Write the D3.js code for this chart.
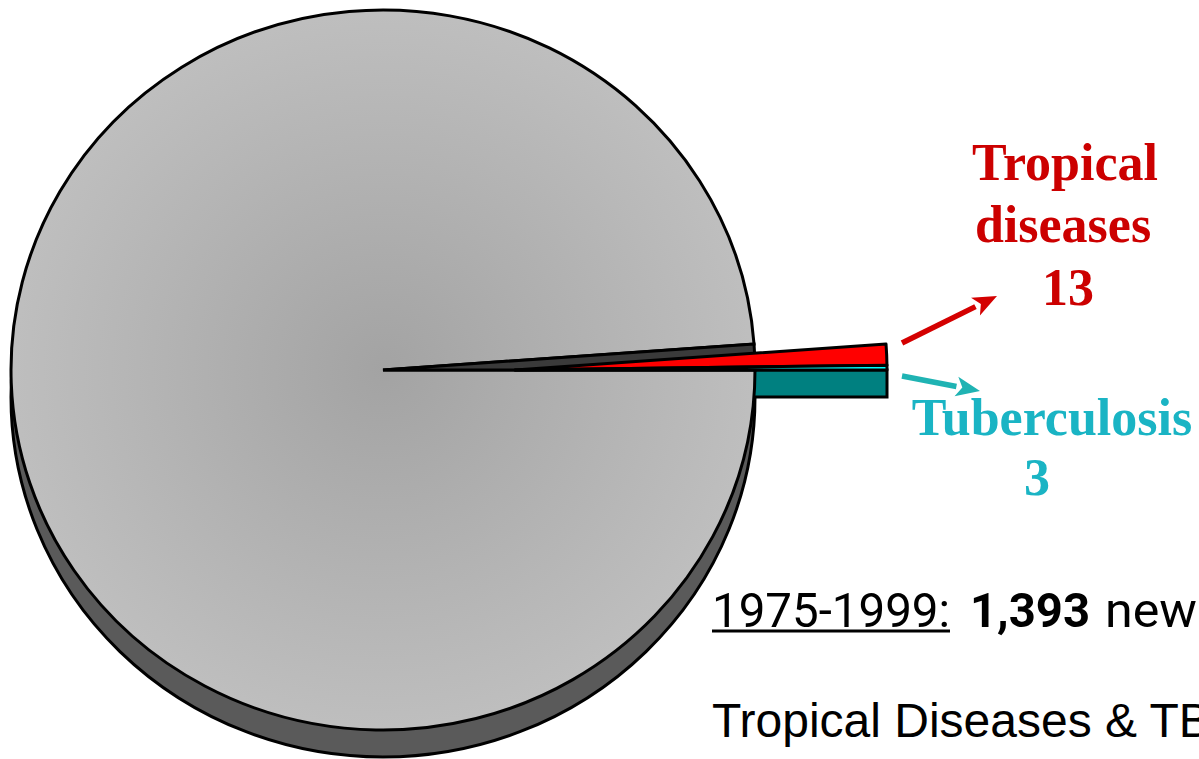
<!DOCTYPE html>
<html><head><meta charset="utf-8">
<script src="https://cdn.jsdelivr.net/npm/d3@7/dist/d3.min.js"></script>
<style>html,body{margin:0;padding:0;background:#fff;overflow:hidden}</style>
</head><body>
<svg id="chart" width="1199" height="759"></svg>
<script>
// ---- data ----
const categories = ["Tropical diseases", "Tuberculosis", "Other new drugs"];
const values = [13, 3, 1377];
const totalLabel = "1,393";
const periodLabel = "1975-1999:";
const newLabel = "new";
const footLabel = "Tropical Diseases & TB";
const labelLines = [["Tropical", "diseases", "13"], ["Tuberculosis", "3"]];

// ---- layout ----
const svg = d3.select("#chart");
const cx = 383, cy = 370, rx = 372, ry = 360, depth = 27, explode = 132;
const sy = ry / rx;
const total = d3.sum(values);
const start = Math.PI / 2 - (values[0] + values[1]) / total * 2 * Math.PI;
const pie = d3.pie().sort(null).startAngle(start).endAngle(start + 2 * Math.PI);
const arcs = pie(values);
const arc = d3.arc().innerRadius(0).outerRadius(rx);
const SW = 3;

const defs = svg.append("defs");
const grad = defs.append("radialGradient").attr("id", "g").attr("cx", "50%").attr("cy", "50%").attr("r", "55%");
grad.append("stop").attr("offset", "0%").attr("stop-color", "#a3a3a3");
grad.append("stop").attr("offset", "100%").attr("stop-color", "#c1c1c1");

// pie side (3D depth)
svg.append("ellipse").attr("cx", cx).attr("cy", cy + depth).attr("rx", rx).attr("ry", ry)
  .attr("fill", "#5a5a5a").attr("stroke", "#000").attr("stroke-width", SW);

// side wall of exploded slices (teal)
const tb = arcs[1];
const ax = cx + explode, ay = cy;
const ox = ax + rx * Math.sin(tb.endAngle), oy = cy - ry * Math.cos(tb.endAngle);
svg.append("path")
  .attr("d", `M${ax},${ay}L${ox},${oy}L${ox},${oy + depth}L${ax},${ay + depth}Z`)
  .attr("fill", "#008080").attr("stroke", "#000").attr("stroke-width", SW);

// main pie top face
const gMain = svg.append("g").attr("transform", `translate(${cx},${cy}) scale(1,${sy})`);
gMain.append("path").attr("d", arc(arcs[2])).attr("fill", "url(#g)")
  .attr("stroke", "#000").attr("stroke-width", SW).attr("vector-effect", "non-scaling-stroke");
// notch left by the exploded slices
gMain.append("path").attr("d", arc({startAngle: arcs[0].startAngle, endAngle: arcs[1].endAngle}))
  .attr("fill", "#3a3a3a").attr("stroke", "#000").attr("stroke-width", SW).attr("vector-effect", "non-scaling-stroke");

// exploded slices
const gEx = svg.append("g").attr("transform", `translate(${cx + explode},${cy}) scale(1,${sy})`);
const colors = ["#ff0000", "#00ffff"];
[arcs[0], arcs[1]].forEach((a, i) => {
  gEx.append("path").attr("d", arc(a)).attr("fill", colors[i])
    .attr("stroke", "#000").attr("stroke-width", SW).attr("stroke-linejoin", "round")
    .attr("vector-effect", "non-scaling-stroke");
});

// arrows
function arrow(x1, y1, x2, y2, color) {
  const ang = Math.atan2(y2 - y1, x2 - x1), hl = 24, hw = 10;
  const bx = x2 - hl * Math.cos(ang), by = y2 - hl * Math.sin(ang);
  svg.append("line").attr("x1", x1).attr("y1", y1).attr("x2", bx).attr("y2", by)
    .attr("stroke", color).attr("stroke-width", 5.5);
  const px = -Math.sin(ang) * hw, py = Math.cos(ang) * hw;
  svg.append("path").attr("d", `M${x2},${y2}L${bx + px},${by + py}L${bx + 6 * Math.cos(ang)},${by + 6 * Math.sin(ang)}L${bx - px},${by - py}Z`)
    .attr("fill", color);
}
arrow(902, 343, 997, 296, "#d40000");
arrow(902, 376, 980, 391, "#1fb3b3");

// labels
const serif = "'Liberation Serif','DejaVu Serif',serif";
const tl = svg.append("text").attr("font-family", serif).attr("font-weight", "bold").attr("font-size", 52)
  .attr("fill", "#cc0000").attr("text-anchor", "middle");
[[1065, 180], [1063, 242], [1068, 305]].forEach((p, i) =>
  tl.append("tspan").attr("x", p[0]).attr("y", p[1]).text(labelLines[0][i]));
const tb2 = svg.append("text").attr("font-family", serif).attr("font-weight", "bold").attr("font-size", 52)
  .attr("fill", "#1ab4c4").attr("text-anchor", "middle");
[[1052, 435], [1037, 495]].forEach((p, i) =>
  tb2.append("tspan").attr("x", p[0]).attr("y", p[1]).text(labelLines[1][i]));

// bottom text
const sans1 = "Roboto,'DejaVu Sans',sans-serif";
const line1 = svg.append("text").attr("y", 627).attr("font-family", sans1).attr("font-size", 49).attr("fill", "#000");
line1.append("tspan").attr("x", 712).attr("textLength", 238).attr("lengthAdjust", "spacingAndGlyphs").text(periodLabel);
line1.append("tspan").attr("x", 970).attr("font-weight", "bold").attr("textLength", 120).attr("lengthAdjust", "spacingAndGlyphs").text(totalLabel);
line1.append("tspan").attr("x", 1105).attr("textLength", 92).attr("lengthAdjust", "spacingAndGlyphs").text(newLabel);
svg.append("line").attr("x1", 712).attr("x2", 950).attr("y1", 631).attr("y2", 631).attr("stroke", "#000").attr("stroke-width", 3);
svg.append("text").attr("x", 712).attr("y", 737).attr("font-family", "'Liberation Sans',Arial,sans-serif").attr("font-size", 48)
  .attr("fill", "#000").text(footLabel);
</script>
</body></html>
